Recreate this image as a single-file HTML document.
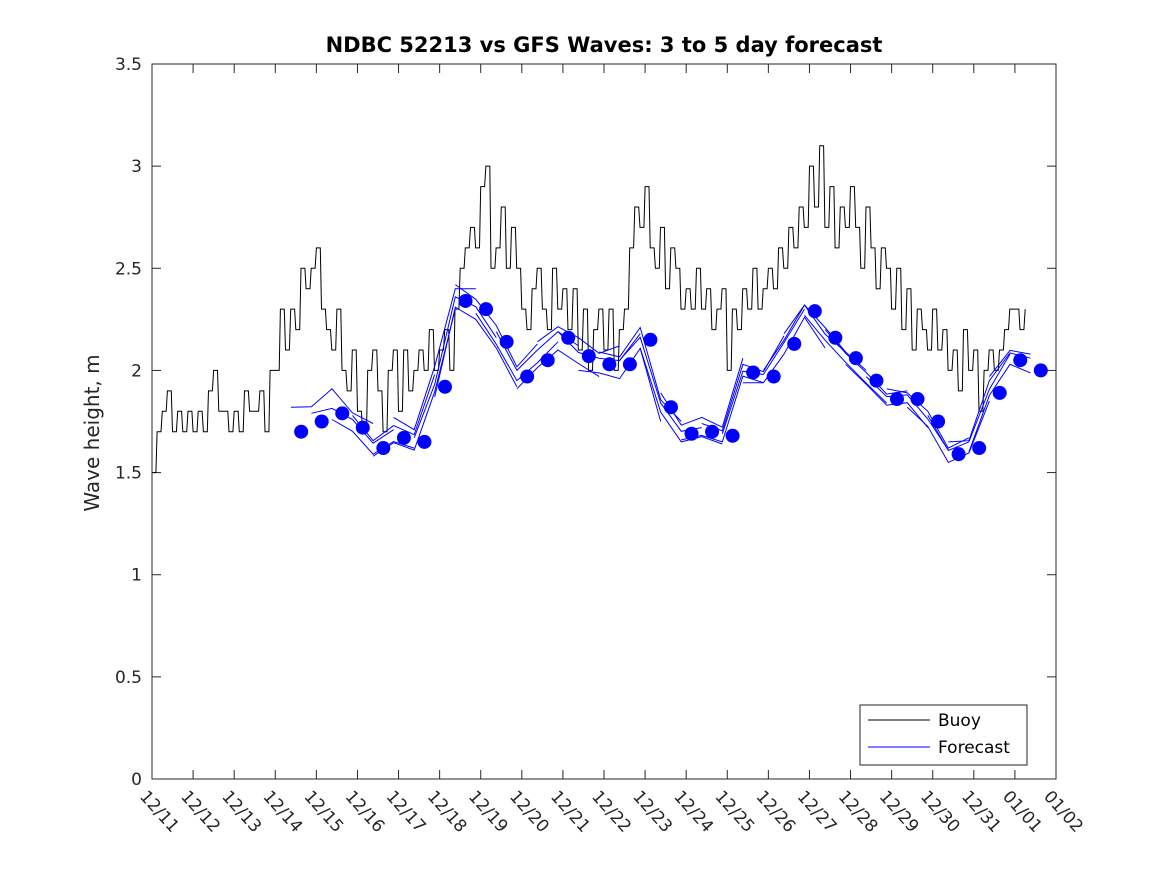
<!DOCTYPE html>
<html><head><meta charset="utf-8"><style>
html,body{margin:0;padding:0;background:#fff;}
svg text{font-family:"DejaVu Sans","Liberation Sans",sans-serif;fill:#262626;}
</style></head><body>
<svg id="chart" width="1167" height="875" xmlns="http://www.w3.org/2000/svg">
<rect width="1167" height="875" fill="#fff"/>
<text x="604" y="52" text-anchor="middle" font-size="21" font-weight="bold" style="fill:#000">NDBC 52213 vs GFS Waves: 3 to 5 day forecast</text>
<text transform="translate(99,433) rotate(-90)" text-anchor="middle" font-size="20">Wave height, m</text>
<g id="axes"></g>
<g id="series"></g>
<g>
<rect x="860" y="705" width="167" height="60" fill="#fff" stroke="#262626" stroke-width="1"/>
<line x1="868" y1="720" x2="930" y2="720" stroke="#000" stroke-width="1"/>
<text x="938" y="726" font-size="17" style="fill:#000">Buoy</text>
<line x1="868" y1="747" x2="930" y2="747" stroke="#0000ff" stroke-width="1"/>
<text x="938" y="753" font-size="17" style="fill:#000">Forecast</text>
</g>
</svg>
<script>
const xTickLabels = ["12/11","12/12","12/13","12/14","12/15","12/16","12/17","12/18","12/19","12/20","12/21","12/22","12/23","12/24","12/25","12/26","12/27","12/28","12/29","12/30","12/31","01/01","01/02"];
const yTicks = [0,0.5,1,1.5,2,2.5,3,3.5];
const yTickLabels = ["0","0.5","1","1.5","2","2.5","3","3.5"];
const buoyStep = 0.125;
const buoyValues = [
1.5,1.7,1.8,1.9,1.7,1.8,1.7,1.8,
1.7,1.8,1.7,1.9,2.0,1.8,1.8,1.7,
1.8,1.7,1.9,1.8,1.8,1.9,1.7,2.0,
2.0,2.3,2.1,2.3,2.2,2.5,2.4,2.5,
2.6,2.3,2.2,2.1,2.3,2.0,1.9,2.1,
1.8,1.7,2.0,2.1,1.9,1.7,2.0,2.1,
1.8,2.1,1.9,2.0,2.1,2.0,2.2,2.0,
2.1,2.2,2.0,2.3,2.5,2.6,2.7,2.6,
2.9,3.0,2.5,2.6,2.8,2.5,2.7,2.5,
2.3,2.2,2.4,2.5,2.3,2.2,2.5,2.3,
2.4,2.2,2.4,2.1,2.3,2.0,2.2,2.3,
2.1,2.3,2.0,2.2,2.3,2.6,2.8,2.7,
2.9,2.6,2.5,2.7,2.4,2.6,2.5,2.3,
2.4,2.3,2.5,2.3,2.4,2.2,2.3,2.4,
2.0,2.3,2.2,2.4,2.3,2.5,2.3,2.4,
2.5,2.4,2.6,2.5,2.7,2.6,2.8,2.7,
3.0,2.8,3.1,2.7,2.9,2.6,2.8,2.7,
2.9,2.7,2.5,2.8,2.6,2.4,2.6,2.5,
2.3,2.5,2.2,2.4,2.1,2.3,2.2,2.1,
2.3,2.1,2.2,2.0,2.1,1.9,2.2,2.0,
2.1,1.8,2.0,2.1,2.0,2.1,2.2,2.3,
2.3,2.2,2.3];
const dotStartDay = 3.63;
const dotStep = 0.5;
const forecastDots = [1.70,1.75,1.79,1.72,1.62,1.67,1.65,1.92,2.34,2.30,2.14,1.97,2.05,2.16,2.07,2.03,2.03,2.15,1.82,1.69,1.70,1.68,1.99,1.97,2.13,2.29,2.16,2.06,1.95,1.86,1.86,1.75,1.59,1.62,1.89,2.05,2.00];
const runOffsets = [0.12,0.04,-0.03,0.06,-0.04,0.10,0.02,-0.05,0.08,-0.02,0.05,-0.06,0.09,0.03,-0.07,0.06,0.02,-0.04,0.07,-0.03,0.04,0.01,-0.05,0.03,0.05,-0.02,0.04,-0.03,0.02,0.05,-0.04,0.03,0.06,-0.02,0.08];
const runLength = 5;

const NS="http://www.w3.org/2000/svg";
const X0=152,X1=1056,Y0=779,Y1=64,DAYS=22,YMAX=3.5;
const xs=d=>X0+(X1-X0)*d/DAYS;
const ys=v=>Y0-(Y0-Y1)*v/YMAX;
function mk(tag,attrs,parent){const e=document.createElementNS(NS,tag);for(const k in attrs)e.setAttribute(k,attrs[k]);parent.appendChild(e);return e;}
const axes=document.getElementById('axes'), ser=document.getElementById('series');
const frame=mk('rect',{x:X0,y:Y1,width:X1-X0,height:Y0-Y1,fill:'none',stroke:'#262626','stroke-width':1},axes);


yTicks.forEach((v,i)=>{const y=ys(v);
 mk('line',{x1:X0,y1:y,x2:X0+9,y2:y,stroke:'#262626'},axes);
 mk('line',{x1:X1,y1:y,x2:X1-9,y2:y,stroke:'#262626'},axes);
 const t=mk('text',{x:X0-10,y:y+6,'text-anchor':'end','font-size':17},axes);t.textContent=yTickLabels[i];
 
 
});
xTickLabels.forEach((lab,i)=>{const x=xs(i);
 mk('line',{x1:x,y1:Y0,x2:x,y2:Y0-9,stroke:'#262626'},axes);
 mk('line',{x1:x,y1:Y1,x2:x,y2:Y1+9,stroke:'#262626'},axes);
 const t=mk('text',{transform:`translate(${x-13},${797}) rotate(48)`,'font-size':17},axes);t.textContent=lab;
 
 
});
const bp=[];
buoyValues.forEach((v,i)=>{
 const x0=xs(i*buoyStep), x1=xs((i+1)*buoyStep-0.03);
 bp.push(x0.toFixed(1)+','+ys(v).toFixed(1));
 if(i<buoyValues.length-1) bp.push(x1.toFixed(1)+','+ys(v).toFixed(1));
});
const bl=mk('polyline',{points:bp.join(' '),fill:'none',stroke:'#000','stroke-width':1},ser);


runOffsets.forEach((off,r)=>{
 const p=[];
 for(let k=0;k<runLength;k++){const i=r+k; if(i>=forecastDots.length)break;
  p.push(xs(dotStartDay+dotStep*i-0.25).toFixed(1)+','+ys(forecastDots[i]+off*(k%2?0.6:1)).toFixed(1));}
 const l=mk('polyline',{points:p.join(' '),fill:'none',stroke:'#0000ff','stroke-width':1},ser);
 
 
});
forecastDots.forEach((v,i)=>{
 const c=mk('circle',{cx:xs(dotStartDay+dotStep*i),cy:ys(v),r:7,fill:'#0000ff'},ser);
 
 
});
</script>
</body></html>
